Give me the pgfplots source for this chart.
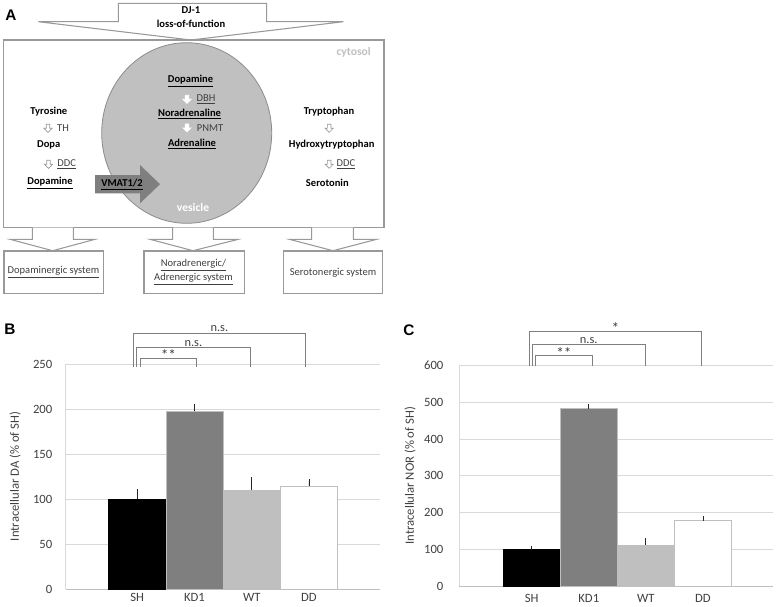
\documentclass[border=0pt]{standalone}
\usepackage{fontspec}
\setmainfont{Carlito}
\newfontfamily\arialf{Liberation Sans}
\usepackage{pgfplots}
\pgfplotsset{compat=1.18}
\definecolor{gridgray}{HTML}{D9D9D9}
\definecolor{axgray}{HTML}{BFBFBF}
\definecolor{brgray}{HTML}{7F7F7F}
\definecolor{vescol}{HTML}{C0C0C0}
\definecolor{vesborder}{HTML}{8C8C8C}
\definecolor{vmat}{HTML}{7F7F7F}
\definecolor{linegray}{HTML}{999999}
\definecolor{txtgray}{HTML}{404040}
\definecolor{kdcol}{HTML}{7F7F7F}
\definecolor{wtcol}{HTML}{BFBFBF}
\newcommand{\fa}{\fontsize{7.9}{9}\selectfont}
\newcommand{\fb}{\fontsize{8.7}{10}\selectfont}
\newcommand{\dnarrow}[3]{%
  \draw[#3, fill=white, line width=0.5pt, shift={(#1,#2)}]
    (-1.8,-4) -- (1.8,-4) -- (1.8,0) -- (4,0) -- (0,4) -- (-4,0) -- (-1.8,0) -- cycle;}
\tikzset{
  br/.style={draw=brgray, line width=0.7pt},
  brl/.style={font=\fontsize{9.3}{10}\selectfont, text=txtgray, anchor=south, inner sep=0.6pt},
  brs/.style={font=\fontsize{11.5}{12}\selectfont, text=txtgray, anchor=south, inner sep=0pt, yshift=-2.2pt},
}
\begin{document}
\begin{tikzpicture}
\begin{scope}[x=0.75pt, y=-0.75pt]
\path[use as bounding box] (0,0) rectangle (777,604);
% panel letters
\node[font=\arialf\bfseries\fontsize{11.5}{12}\selectfont] at (11,15.3) {A};
\node[font=\arialf\bfseries\fontsize{11.5}{12}\selectfont] at (10,329.5) {B};
\node[font=\arialf\bfseries\fontsize{11.5}{12}\selectfont] at (409,330) {C};
% top arrow
\draw[linegray, fill=white, line width=0.8pt] (118.3,3.3) -- (266.7,3.3) -- (266.7,21.7) -- (343.3,21.7) -- (191,40) -- (38.3,21.7) -- (118.3,21.7) -- cycle;
\node[font=\fa\bfseries] at (191,10.3) {DJ-1};
\node[font=\fa\bfseries] at (191,24.3) {loss-of-function};
% cytosol box
\draw[linegray, line width=0.9pt] (3.3,40) rectangle (384,227.7);
\node[font=\fb\bfseries, text=axgray, anchor=east] at (375.5,52) {cytosol};
% vesicle
\draw[vesborder, fill=vescol, line width=0.6pt] (186.7,133) ellipse [x radius=85, y radius=90.3];
\node[font=\fb\bfseries, text=white] at (193,207.3) {vesicle};
\node[font=\fa\bfseries] at (190.5,81) {\underline{Dopamine}};
\dnarrow{187}{99.3}{white}
\node[font=\fa, text=txtgray] at (206,99.3) {\underline{DBH}};
\node[font=\fa\bfseries] at (189.5,113.7) {\underline{Noradrenaline}};
\dnarrow{187}{128}{white}
\node[font=\fa, text=txtgray] at (210,128) {PNMT};
\node[font=\fa\bfseries] at (192,144) {\underline{Adrenaline}};
% left column
\node[font=\fa\bfseries] at (48.8,111.7) {Tyrosine};
\dnarrow{48}{128.3}{linegray}
\node[font=\fa, text=txtgray] at (63,128.3) {TH};
\node[font=\fa\bfseries] at (48.7,145) {Dopa};
\dnarrow{48.5}{164.3}{linegray}
\node[font=\fa, text=txtgray] at (66.7,164.3) {\underline{DDC}};
\node[font=\fa\bfseries] at (50,183.3) {\underline{Dopamine}};
% right column
\node[font=\fa\bfseries] at (329,111.7) {Tryptophan};
\dnarrow{329.2}{128.3}{linegray}
\node[font=\fa\bfseries] at (331.7,145) {Hydroxytryptophan};
\dnarrow{329.2}{164.3}{linegray}
\node[font=\fa, text=txtgray] at (346,164.3) {\underline{DDC}};
\node[font=\fa\bfseries] at (327.3,183.3) {Serotonin};
% VMAT arrow
\fill[vmat] (95,175) -- (140,175) -- (140,165) -- (160,184.2) -- (140,203.3) -- (140,193.3) -- (95,193.3) -- cycle;
\node[font=\fa\bfseries] at (122,184.5) {\underline{VMAT1/2}};
% bottom arrows and boxes
\draw[linegray, fill=white, line width=0.8pt] (32.3,227.7) -- (32.3,239.3) -- (10,239.3) -- (52.7,250.7) -- (95,239.3) -- (73.3,239.3) -- (73.3,227.7);
\draw[linegray, fill=white, line width=0.8pt] (172.7,227.7) -- (172.7,239.3) -- (150,239.3) -- (193,250.7) -- (238.3,239.3) -- (213.3,239.3) -- (213.3,227.7);
\draw[linegray, fill=white, line width=0.8pt] (311.7,227.7) -- (311.7,239.3) -- (289.3,239.3) -- (333,250.7) -- (376.7,239.3) -- (353.3,239.3) -- (353.3,227.7);
\draw[linegray, line width=0.8pt] (4,251) rectangle (103.3,293.3);
\draw[linegray, line width=0.8pt] (144,251) rectangle (244.3,293.3);
\draw[linegray, line width=0.8pt] (283.3,251) rectangle (382.7,293.3);
\node[font=\fa, text=txtgray] at (53.5,272.3) {\underline{Dopaminergic system}};
\node[font=\fa, text=txtgray] at (193.5,265.3) {\underline{Noradrenergic/}};
\node[font=\fa, text=txtgray] at (193.5,279) {\underline{Adrenergic system}};
\node[font=\fa, text=txtgray] at (333,272.3) {Serotonergic system};
\coordinate (Bsw) at (65.7,589);
\coordinate (Csw) at (459,586);
\end{scope}
\pgfplotsset{
  barstyle/.style={
    scale only axis, anchor=south west,
    xmin=-1.25, xmax=4.24, ymin=0,
    xtick={0,1,2,3}, xticklabels={SH,KD1,WT,DD},
    ymajorgrids, grid style={draw=gridgray, line width=0.6pt},
    axis x line*=bottom, axis y line*=left,
    x axis line style={draw=axgray, line width=0.7pt},
    y axis line style={draw=gridgray, line width=0.6pt},
    major tick length=0pt,
    tick label style={font=\fontsize{9.5}{10}\selectfont, text=txtgray},
    /pgf/number format/assume math mode=true,
    ylabel style={font=\fontsize{9.5}{10}\selectfont, text=txtgray, anchor=center},
    clip=false,
    error bars/y dir=plus, error bars/y explicit,
    error bars/error bar style={black!85, line width=0.7pt},
    error bars/error mark=|,
    error bars/error mark options={black!85, rotate=90, mark size=1.8pt, line width=0.7pt},
  },
}
% Panel B
\begin{axis}[barstyle, at={(Bsw)}, width=235.7pt, height=168.75pt,
  ymax=250, ytick={0,50,...,250},
  yticklabel style={xshift=-6.5pt},
  ylabel={Intracellular DA (\% of SH)},
  ylabel style={at={(axis description cs:-0.161,0.5)}}]
\addplot[ybar, bar width=1, fill=black, draw=black] coordinates {(0,100) +- (0,8)};
\addplot[ybar, bar width=1, fill=kdcol, draw=axgray] coordinates {(1,197.5) +- (0,5)};
\addplot[ybar, bar width=1, fill=wtcol, draw=axgray] coordinates {(2,110) +- (0,12)};
\addplot[ybar, bar width=1, fill=white, draw=axgray] coordinates {(3,114.5) +- (0,5.5)};
\draw[br] (axis cs:-0.06,247) |- (axis cs:2.93,284.4) -- (axis cs:2.93,247);
\draw[br] (axis cs:-0.01,247) |- (axis cs:1.97,268.5) -- (axis cs:1.97,247);
\draw[br] (axis cs:0.05,247) |- (axis cs:1.04,256.5) -- (axis cs:1.04,247);
\node[brl] at (axis cs:1.435,284.4) {n.s.};
\node[brl] at (axis cs:0.98,268.5) {n.s.};
\node[brs] at (axis cs:0.545,256.5) {**};
\end{axis}
% Panel C
\begin{axis}[barstyle, at={(Csw)}, width=235.5pt, height=165.2pt,
  xmin=-1.273, xmax=4.226,
  ymax=600, ytick={0,100,...,600},
  yticklabel style={xshift=-8.2pt},
  xticklabel style={yshift=-2.5pt},
  ylabel={Intracellular NOR (\% of SH)},
  ylabel style={at={(axis description cs:-0.156,0.5)}}]
\addplot[ybar, bar width=1, fill=black, draw=black] coordinates {(0,100) +- (0,3.5)};
\addplot[ybar, bar width=1, fill=kdcol, draw=axgray] coordinates {(1,484) +- (0,5)};
\addplot[ybar, bar width=1, fill=wtcol, draw=axgray] coordinates {(2,112) +- (0,13)};
\addplot[ybar, bar width=1, fill=white, draw=axgray] coordinates {(3,178) +- (0,7)};
\draw[br] (axis cs:-0.047,598) |- (axis cs:2.977,694.5) -- (axis cs:2.977,598);
\draw[br] (axis cs:0.01,598) |- (axis cs:1.997,658) -- (axis cs:1.997,598);
\draw[br] (axis cs:0.07,598) |- (axis cs:1.06,627) -- (axis cs:1.06,598);
\node[brs] at (axis cs:1.465,694.5) {*};
\node[brl] at (axis cs:1.0,658) {n.s.};
\node[brs] at (axis cs:0.565,627) {**};
\end{axis}
\end{tikzpicture}
\end{document}
